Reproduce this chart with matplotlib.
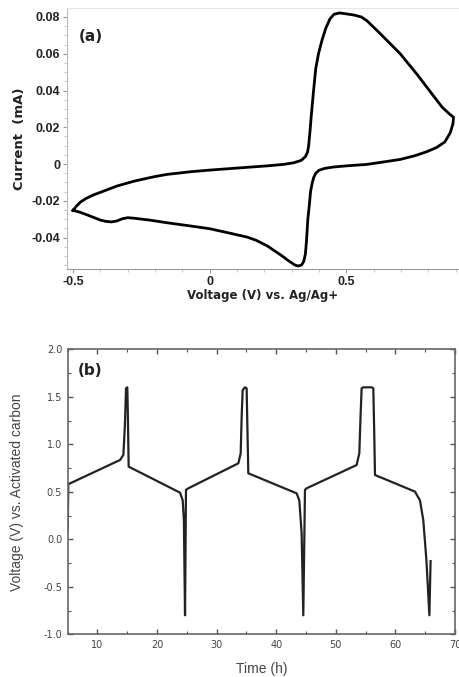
import matplotlib
matplotlib.use("Agg")
import matplotlib.pyplot as plt
from matplotlib.ticker import MultipleLocator, FormatStrFormatter

# ---- Panel (a): cyclic voltammogram ----
cv_voltage = [-0.500, -0.487, -0.472, -0.452, -0.425, -0.398, -0.340, -0.276, -0.200, -0.154, -0.070,
              0.000, 0.100, 0.210, 0.270, 0.308, 0.335, 0.350, 0.358, 0.362, 0.367, 0.372,
              0.380, 0.388, 0.398, 0.411, 0.425, 0.440, 0.455, 0.475, 0.500, 0.530, 0.555,
              0.575, 0.620, 0.697, 0.760, 0.819, 0.850, 0.875, 0.892,
              0.890, 0.880, 0.860, 0.830, 0.794, 0.750, 0.697, 0.630, 0.575, 0.500, 0.454,
              0.420, 0.400, 0.388, 0.380, 0.374, 0.369, 0.364, 0.359, 0.354, 0.350, 0.344,
              0.336, 0.322, 0.310, 0.290, 0.260, 0.210, 0.170, 0.138, 0.070, 0.000, -0.080,
              -0.154, -0.220, -0.276, -0.300, -0.320, -0.340, -0.360, -0.380, -0.400, -0.446,
              -0.475, -0.500]
cv_current = [-0.0252, -0.0228, -0.0206, -0.0187, -0.0168, -0.0153, -0.0120, -0.0093, -0.0068, -0.0056, -0.0042,
              -0.0033, -0.0022, -0.0010, -0.0002, 0.0007, 0.0020, 0.0040, 0.0065, 0.0100, 0.0180, 0.0270,
              0.0400, 0.0520, 0.0600, 0.0675, 0.0740, 0.0790, 0.0815, 0.0822, 0.0817, 0.0810, 0.0800,
              0.0780, 0.0715, 0.0600, 0.0485, 0.0370, 0.0310, 0.0275, 0.0254,
              0.0220, 0.0170, 0.0120, 0.0090, 0.0067, 0.0045, 0.0025, 0.0010, -0.0002, -0.0010, -0.0016,
              -0.0024, -0.0034, -0.0050, -0.0075, -0.0110, -0.0150, -0.0230, -0.0300, -0.0420, -0.0490, -0.0530,
              -0.0550, -0.0555, -0.0548, -0.0528, -0.0495, -0.0445, -0.0415, -0.0398, -0.0375, -0.0352, -0.0335,
              -0.0320, -0.0305, -0.0295, -0.0292, -0.0298, -0.0310, -0.0315, -0.0312, -0.0305, -0.0278,
              -0.0262, -0.0252]

# ---- Panel (b): charge/discharge ----
gcd_time = [5.0, 5.1, 13.78, 14.34, 14.6, 14.79, 15.0, 15.1, 15.23, 23.85, 24.3, 24.5, 24.69,
            24.85, 25.25, 33.64, 34.03, 34.2, 34.36, 34.75, 35.03, 35.15, 35.31, 43.42, 43.87, 44.26, 44.54,
            44.82, 45.1, 53.49, 53.94, 54.15, 54.33, 54.6, 56.0, 56.29, 56.45, 56.57, 63.28, 64.12, 64.68,
            65.2, 65.7, 65.9]
gcd_voltage = [0.10, 0.58, 0.835, 0.888, 1.20, 1.59, 1.60, 1.30, 0.765, 0.491, 0.41, 0.20, -0.80,
               0.52, 0.537, 0.80, 0.905, 1.30, 1.57, 1.60, 1.59, 1.20, 0.695, 0.484, 0.41, 0.06, -0.80,
               0.52, 0.537, 0.782, 0.905, 1.30, 1.59, 1.60, 1.60, 1.59, 1.10, 0.677, 0.502, 0.41, 0.20,
               -0.22, -0.80, -0.23]

a_xticks = [-0.5, 0, 0.5]
a_xticklabels = ["-0.5", "0", "0.5"]
a_yticks = [-0.04, -0.02, 0, 0.02, 0.04, 0.06, 0.08]
a_yticklabels = ["-0.04", "-0.02", "0", "0.02", "0.04", "0.06", "0.08"]

fig = plt.figure(figsize=(4.59, 6.77), dpi=100)

# Panel (a)
ax1 = fig.add_axes([0.146, 0.6027, 0.854, 0.3855])
ax1.plot(cv_voltage, cv_current, color="black", lw=2.0, solid_joinstyle="round")
ax1.set_xlim(-0.522, 0.912)
ax1.set_ylim(-0.0571, 0.0849)
ax1.set_xticks(a_xticks)
ax1.set_xticklabels(a_xticklabels)
ax1.set_yticks(a_yticks)
ax1.set_yticklabels(a_yticklabels)
ax1.xaxis.set_minor_locator(MultipleLocator(0.1))
ax1.yaxis.set_minor_locator(MultipleLocator(0.005))
for lab in ax1.get_xticklabels() + ax1.get_yticklabels():
    lab.set_fontweight("bold")
    lab.set_fontsize(9)
    lab.set_family("Liberation Sans")
    lab.set_color("#222222")
ax1.tick_params(which="major", direction="out", length=3, width=0.8, color="#999999", pad=2)
ax1.tick_params(which="minor", direction="out", length=2, width=0.6, color="#bbbbbb")
ax1.spines["right"].set_visible(False)
ax1.spines["top"].set_color("#e6e6e6")
ax1.spines["left"].set_color("#bbbbbb")
ax1.spines["bottom"].set_color("#999999")
ax1.set_xlabel("Voltage (V) vs. Ag/Ag+", fontweight="bold", fontsize=8.5, labelpad=1, color="#222222")
ax1.set_ylabel("Current  (mA)", fontweight="bold", fontsize=9.5, labelpad=4, color="#222222")
ax1.text(0.03, 0.875, "(a)", transform=ax1.transAxes, fontweight="bold", fontsize=11,
         color="#222222")

# Panel (b)
ax2 = fig.add_axes([0.1475, 0.0631, 0.8438, 0.4209])
ax2.plot(gcd_time, gcd_voltage, color="#222222", lw=1.6, solid_joinstyle="round")
ax2.set_xlim(5, 70)
ax2.set_ylim(-1.0, 2.0)
ax2.xaxis.set_major_locator(MultipleLocator(10))
ax2.xaxis.set_minor_locator(MultipleLocator(5))
ax2.yaxis.set_major_locator(MultipleLocator(0.5))
ax2.yaxis.set_minor_locator(MultipleLocator(0.25))
ax2.yaxis.set_major_formatter(FormatStrFormatter("%.1f"))
ax2.tick_params(which="both", direction="in", top=True, right=True, color="#555555")
ax2.tick_params(which="major", length=3.5, width=1.0, labelsize=7, labelcolor="#444444", pad=4)
ax2.tick_params(which="minor", length=2, width=0.8)
for s in ax2.spines.values():
    s.set_color("#666666")
    s.set_linewidth(1.2)
ax2.set_xlabel("Time (h)", fontsize=10, color="#444444", family="Liberation Sans", labelpad=9)
ax2.set_ylabel("Voltage (V) vs. Activated carbon", fontsize=10, color="#444444",
               family="Liberation Sans", labelpad=14)
ax2.text(0.025, 0.91, "(b)", transform=ax2.transAxes, fontweight="bold", fontsize=11,
         color="#222222")

fig.savefig("out.png", dpi=100)
